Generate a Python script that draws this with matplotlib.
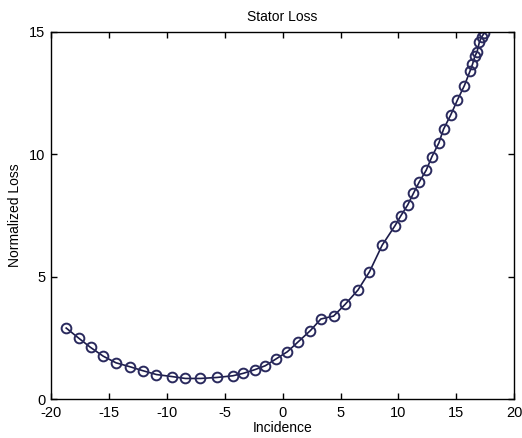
import matplotlib.pyplot as plt

# incidence angle (deg) and normalized stator loss
incidence = [-18.7, -17.6, -16.6, -15.5, -14.4, -13.2, -12.1, -10.9, -9.6, -8.4,
             -7.1, -5.7, -4.3, -3.4, -2.4, -1.5, -0.6, 0.4, 1.3, 2.4,
             3.3, 4.4, 5.4, 6.5, 7.5, 8.6, 9.7, 10.2, 10.8, 11.3,
             11.8, 12.4, 12.9, 13.5, 13.9, 14.5, 15.1, 15.7, 16.2, 16.4,
             16.6, 16.8, 17.0, 17.2, 17.4]
loss = [2.90, 2.48, 2.11, 1.75, 1.48, 1.32, 1.16, 1.00, 0.92, 0.84,
        0.84, 0.88, 0.95, 1.05, 1.20, 1.36, 1.63, 1.93, 2.32, 2.80,
        3.27, 3.39, 3.87, 4.45, 5.20, 6.29, 7.08, 7.48, 7.93, 8.41,
        8.87, 9.35, 9.91, 10.47, 11.03, 11.59, 12.22, 12.81, 13.42, 13.68,
        14.00, 14.20, 14.60, 14.80, 14.95]

xticks = [-20, -15, -10, -5, 0, 5, 10, 15, 20]
yticks = [0, 5, 10, 15]

plt.rcParams['font.family'] = ['Liberation Sans', 'DejaVu Sans']
plt.rcParams['font.size'] = 10
plt.rcParams['axes.unicode_minus'] = False

fig = plt.figure(figsize=(5.22, 4.38), dpi=100)
ax = fig.add_axes([0.098, 0.089, 0.887, 0.838])

ax.plot(incidence, loss, '-', color='#1c1c4a', linewidth=1.2)
ax.plot(incidence, loss, 'o', markersize=7, markerfacecolor='none',
        markeredgecolor='#2a2a5e', markeredgewidth=1.4)

ax.set_xlim(-20, 20)
ax.set_ylim(0, 15)
ax.set_xticks(xticks)
ax.set_yticks(yticks)
ax.tick_params(direction='in', top=True, right=True, length=4, width=1,
               labelsize=10.5)
ax.tick_params(axis='x', pad=5)
ax.tick_params(axis='y', pad=4)
for s in ax.spines.values():
    s.set_linewidth(1.0)

ax.set_title('Stator Loss', fontsize=10, pad=8)
ax.set_xlabel('Incidence', fontsize=10, labelpad=1)
ax.set_ylabel('Normalized Loss', fontsize=10, labelpad=5)

fig.savefig('out.png', dpi=100)
